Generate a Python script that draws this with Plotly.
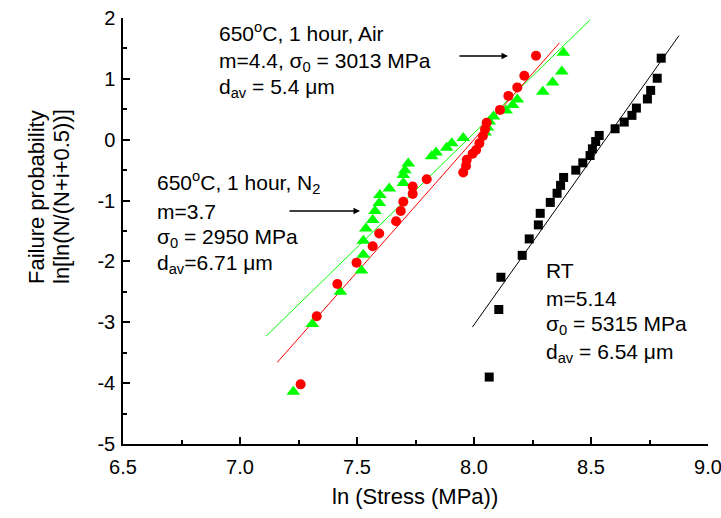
import plotly.graph_objects as go

# ---- data ----
rt_x = [8.065, 8.106, 8.115, 8.206, 8.236, 8.275, 8.283, 8.326, 8.355, 8.370,
        8.383, 8.435, 8.465, 8.496, 8.506, 8.520, 8.535, 8.603, 8.642, 8.675,
        8.694, 8.741, 8.755, 8.783, 8.800]
rt_y = [-3.90, -2.79, -2.26, -1.90, -1.63, -1.40, -1.21, -1.03, -0.88, -0.75,
        -0.62, -0.50, -0.38, -0.26, -0.15, -0.03, 0.07, 0.18, 0.29, 0.40,
        0.52, 0.67, 0.81, 1.01, 1.34]

air_x = [7.259, 7.328, 7.416, 7.498, 7.567, 7.595, 7.667, 7.687, 7.698, 7.738,
         7.738, 7.798, 7.954, 7.966, 7.969, 7.994, 8.009, 8.023, 8.038, 8.047,
         8.054, 8.111, 8.147, 8.185, 8.215, 8.265]
air_y = [-4.02, -2.90, -2.37, -2.02, -1.75, -1.54, -1.34, -1.17, -1.02, -0.89,
         -0.77, -0.65, -0.54, -0.43, -0.33, -0.23, -0.17, -0.06, 0.06, 0.17,
         0.28, 0.49, 0.72, 0.86, 1.05, 1.38]

n2_x = [7.228, 7.309, 7.429, 7.519, 7.527, 7.527, 7.538, 7.567, 7.577, 7.595,
        7.598, 7.638, 7.698, 7.698, 7.705, 7.719, 7.819, 7.838, 7.883, 7.905,
        7.954, 8.047, 8.057, 8.065, 8.083, 8.137, 8.165, 8.185, 8.294, 8.336,
        8.375, 8.382]
n2_y = [-4.14, -3.03, -2.50, -2.15, -1.89, -1.66, -1.46, -1.32, -1.17, -1.04,
        -0.91, -0.80, -0.71, -0.58, -0.50, -0.39, -0.27, -0.21, -0.13, -0.06,
        0.03, 0.12, 0.20, 0.30, 0.38, 0.48, 0.57, 0.66, 0.79, 0.94,
        1.12, 1.43]

# fitted lines (end points)
rt_fit_x = [7.993, 8.876]
rt_fit_y = [-3.08, 1.71]
air_fit_x = [7.159, 8.365]
air_fit_y = [-3.66, 1.59]
n2_fit_x = [7.111, 8.496]
n2_fit_y = [-3.23, 1.97]

x_ticks = [6.5, 7.0, 7.5, 8.0, 8.5, 9.0]
x_tick_labels = ["6.5", "7.0", "7.5", "8.0", "8.5", "9.0"]
y_ticks = [2, 1, 0, -1, -2, -3, -4, -5]
y_tick_labels = ["2", "1", "0", "-1", "-2", "-3", "-4", "-5"]

FONT = "Liberation Sans, Arial, sans-serif"
W, H = 721, 518
L, R, T, B = 123, 13, 18, 74
PW, PH = W - L - R, H - T - B


def px(x):
    return (x - L) / PW


def py(y):
    return (H - B - y) / PH


fig = go.Figure()
fig.add_trace(go.Scatter(x=n2_fit_x, y=n2_fit_y, mode="lines",
                         line=dict(color="#00ff00", width=1), showlegend=False))
fig.add_trace(go.Scatter(x=air_fit_x, y=air_fit_y, mode="lines",
                         line=dict(color="#ff0000", width=1), showlegend=False))
fig.add_trace(go.Scatter(x=rt_fit_x, y=rt_fit_y, mode="lines",
                         line=dict(color="black", width=1), showlegend=False))
fig.add_trace(go.Scatter(x=n2_x, y=n2_y, mode="markers",
                         marker=dict(symbol="triangle-up", size=12, color="#00ff00"),
                         showlegend=False))
fig.add_trace(go.Scatter(x=air_x, y=air_y, mode="markers",
                         marker=dict(symbol="circle", size=10, color="#ff0000"),
                         showlegend=False))
fig.add_trace(go.Scatter(x=rt_x, y=rt_y, mode="markers",
                         marker=dict(symbol="square", size=9, color="black"),
                         showlegend=False))

ann = []
fs_txt = 21
fs_tick = 20
fs_title = 22


def text(xp, yp, s):
    ann.append(dict(x=px(xp), y=py(yp), xref="paper", yref="paper", text=s,
                    showarrow=False, xanchor="left", yanchor="middle",
                    font=dict(family=FONT, size=fs_txt, color="black")))


# Air block
text(217, 32, "650<sup>o</sup>C, 1 hour, Air")
text(217, 62, "m=4.4, σ<sub>0</sub> = 3013 MPa")
text(217, 88, "d<sub>av</sub> = 5.4 μm")
# N2 block
text(155, 182, "650<sup>o</sup>C, 1 hour, N<sub>2</sub>")
text(155, 211, "m=3.7")
text(155, 238, "σ<sub>0</sub> = 2950 MPa")
text(155, 264, "d<sub>av</sub>=6.71 μm")
# RT block
text(544, 270, "RT")
text(544, 298, "m=5.14")
text(544, 325, "σ<sub>0</sub> = 5315 MPa")
text(544, 353, "d<sub>av</sub> = 6.54 μm")

# arrows
for (x0, x1, yy) in [(458, 508, 56), (288, 360, 211)]:
    ann.append(dict(x=px(x1), y=py(yy), xref="paper", yref="paper",
                    ax=x0 - x1, ay=0, text="", showarrow=True,
                    arrowhead=2, arrowsize=1, arrowwidth=1.3, arrowcolor="black"))

# y title (two lines)
for xc, s in [(37, "Failure probability"), (62, "ln[ln(N/(N+i+0.5))]")]:
    ann.append(dict(x=px(xc), y=py(197), xref="paper", yref="paper",
                    text=s, textangle=-90, showarrow=False,
                    xanchor="center", yanchor="middle",
                    font=dict(family=FONT, size=fs_title, color="black")))
# x title
ann.append(dict(x=px(415), y=py(497), xref="paper", yref="paper",
                text="ln (Stress (MPa))", showarrow=False,
                xanchor="center", yanchor="middle",
                font=dict(family=FONT, size=fs_title, color="black")))

axis_common = dict(showgrid=False, zeroline=False, showline=True, linecolor="black",
                   linewidth=1.5, ticks="inside", ticklen=7, tickwidth=1.5,
                   tickcolor="black", mirror=False, automargin=False,
                   ticklabeloverflow="allow",
                   tickfont=dict(family=FONT, size=fs_tick, color="black"))

fig.update_layout(
    width=W, height=H,
    margin=dict(l=L, r=R, t=T, b=B),
    paper_bgcolor="white", plot_bgcolor="white",
    annotations=ann,
    xaxis=dict(range=[6.5, 9.0], tickvals=x_ticks, ticktext=x_tick_labels,
               minor=dict(dtick=0.25, ticks="inside", ticklen=4, tickwidth=1.5,
                          tickcolor="black", showgrid=False),
               ticklabelstandoff=4, **axis_common),
    yaxis=dict(range=[-5, 2], tickvals=y_ticks, ticktext=y_tick_labels,
               minor=dict(dtick=0.5, ticks="inside", ticklen=4, tickwidth=1.5,
                          tickcolor="black", showgrid=False),
               ticklabelstandoff=2, **axis_common),
)

fig.write_html("out.html", config={"displayModeBar": False},
               post_script="document.body.style.margin='0';document.body.style.padding='0';document.body.style.overflow='hidden';")
